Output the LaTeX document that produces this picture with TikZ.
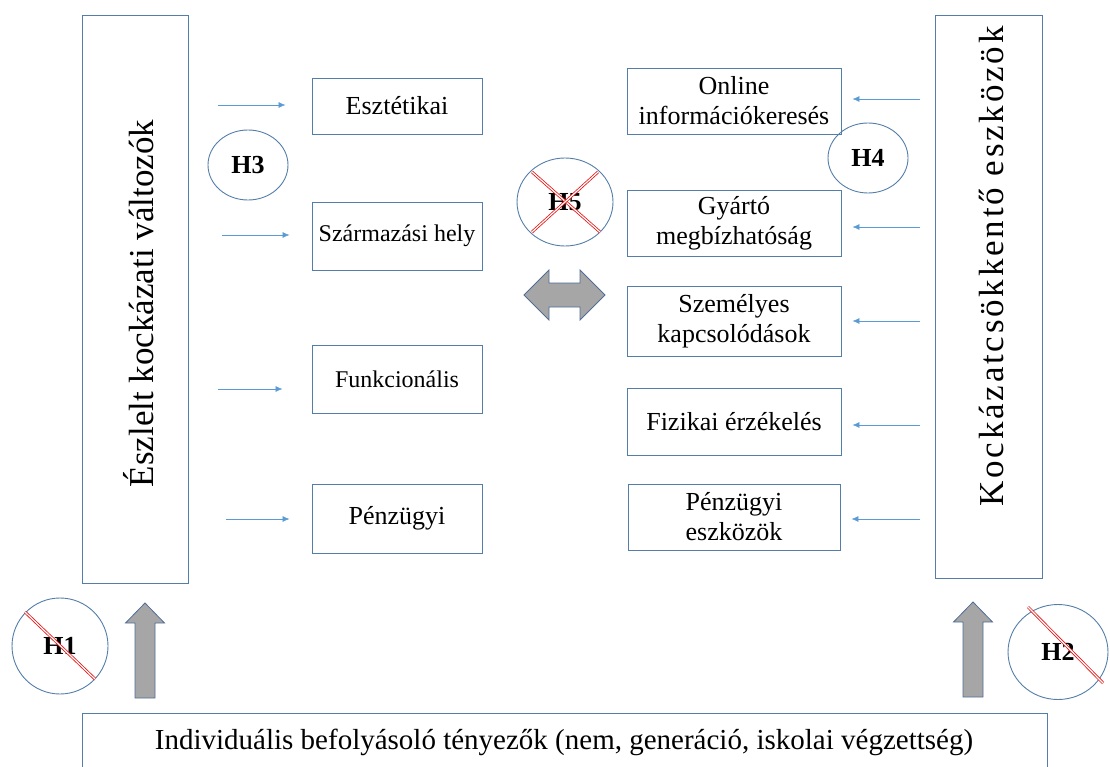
\documentclass[tikz,border=0pt]{standalone}
\usepackage{fontspec}
\setmainfont{Liberation Serif}
\usetikzlibrary{arrows.meta,shapes.geometric,calc}
\begin{document}
\definecolor{boxline}{RGB}{84,126,170}
\definecolor{arrline}{RGB}{91,155,213}
\definecolor{fatfill}{RGB}{166,166,166}
\definecolor{fatline}{RGB}{80,110,150}
\definecolor{strike}{RGB}{230,20,20}
\begin{tikzpicture}[x=1pt,y=-1pt,
  frame/.style={draw=boxline,line width=0.9pt,inner sep=0pt},
  itembox/.style={frame,fill=white,align=center,font=\fontsize{26}{30}\selectfont},
  smallbox/.style={itembox,font=\fontsize{24}{28}\selectfont},
  hyp/.style={draw=boxline,line width=0.9pt,ellipse,inner sep=0pt,font=\bfseries\fontsize{26}{28}\selectfont},
  smallarr/.style={-{Latex[length=7pt,width=6pt]},draw=arrline,line width=0.7pt},
  fat/.style={fill=fatfill,draw=fatline,line width=0.8pt},
  cross/.style={draw=strike,double=white,double distance=1.2pt,line width=0.8pt}]
\useasboundingbox (0,0) rectangle (1110,767);

% tall side boxes
\node[frame,minimum width=106pt,minimum height=568pt] (lbox) at (135,299) {};
\node[rotate=90,font=\fontsize{35}{38}\selectfont] (ltext) at (139,303.5) {Észlelt kockázati változók};
\node[frame,minimum width=107pt,minimum height=563pt] (rbox) at (988.5,296.5) {};
\node[rotate=90,font=\fontsize{35}{38}\selectfont\addfontfeature{LetterSpace=8}] (rtext) at (991,266.5) {Kockázatcsökkentő eszközök};

% bottom box, open at the page edge
\draw[boxline,line width=0.9pt] (82,780) |- (1047,713) -- (1047,780);
\node[font=\fontsize{29}{32}\selectfont] (indiv) at (564,742) {Individuális befolyásoló tényezők (nem, generáció, iskolai végzettség)};

% perceived risk items
\node[itembox,minimum width=170pt,minimum height=56pt] (esz) at (397,106) {Esztétikai};
\node[smallbox,minimum width=170pt,minimum height=68pt] (szh) at (397,236) {Származási hely};
\node[smallbox,minimum width=170pt,minimum height=68pt] (fun) at (397,379) {Funkcionális};
\node[itembox,minimum width=170pt,minimum height=69pt] (pen) at (397,518.5) {Pénzügyi};

% risk reduction items
\node[itembox,minimum width=214pt,minimum height=66pt] (onl) at (734,101) {Online\\információkeresés};
\node[itembox,minimum width=214pt,minimum height=66pt] (gyr) at (734,223) {Gyártó\\megbízhatóság};
\node[itembox,minimum width=214pt,minimum height=70pt] (sze) at (734,321) {Személyes\\kapcsolódások};
\node[itembox,minimum width=214pt,minimum height=67pt] (fiz) at (734,421.5) {Fizikai érzékelés};
\node[itembox,minimum width=212pt,minimum height=66pt] (pez) at (734,517) {Pénzügyi\\eszközök};

% short arrows
\coordinate (a1) at (218,105); \coordinate (a2) at (222,235);
\coordinate (a3) at (218,389); \coordinate (a4) at (226,519);
\draw[smallarr] (a1) -- ([xshift=-26pt]a1 -| esz.west);
\draw[smallarr] (a2) -- ([xshift=-22pt]a2 -| szh.west);
\draw[smallarr] (a3) -- ([xshift=-29pt]a3 -| fun.west);
\draw[smallarr] (a4) -- ([xshift=-22pt]a4 -| pen.west);

\coordinate (b1) at (920,99); \coordinate (b2) at (920,227);
\coordinate (b3) at (920,321); \coordinate (b4) at (920,425);
\coordinate (b5) at (920,519);
\draw[smallarr] (b1) -- ([xshift=11pt]b1 -| onl.east);
\draw[smallarr] (b2) -- ([xshift=11pt]b2 -| gyr.east);
\draw[smallarr] (b3) -- ([xshift=11pt]b3 -| sze.east);
\draw[smallarr] (b4) -- ([xshift=11pt]b4 -| fiz.east);
\draw[smallarr] (b5) -- ([xshift=11pt]b5 -| pez.east);

% hypotheses
\node[hyp,minimum width=80pt,minimum height=70pt] (h3) at (248,165) {H3};
\node[hyp,minimum width=80pt,minimum height=70pt] (h4) at (868,158) {H4};
\node[hyp,minimum width=96pt,minimum height=88pt] (h5) at (565,202) {H5};
\draw[cross] ($(h5.center)+(-33,-30)$) -- ($(h5.center)+(35,30)$);
\draw[cross] ($(h5.center)+(33,-30)$) -- ($(h5.center)+(-33,30)$);
\node[hyp,minimum width=96pt,minimum height=96pt] (h1) at (60,646) {H1};
\draw[cross] ($(h1.center)+(-35,-34)$) -- ($(h1.center)+(35,33)$);
\node[hyp,minimum width=100pt,minimum height=95pt] (h2) at (1058,652) {H2};
\draw[cross] ($(h2.center)+(-30,-45)$) -- ($(h2.center)+(45,31)$);

% block arrows
\coordinate (u1) at (145,603);
\draw[fat] (u1) -- ++(19.5,20) -- ++(-9.5,0) -- ++(0,75) -- ++(-20,0) -- ++(0,-75) -- ++(-9.5,0) -- cycle;
\coordinate (u2) at (973,602);
\draw[fat] (u2) -- ++(19.5,20) -- ++(-9.5,0) -- ++(0,75) -- ++(-20,0) -- ++(0,-75) -- ++(-9.5,0) -- cycle;
\coordinate (dl) at (524,295);
\draw[fat] (dl) -- ++(25,-25) -- ++(0,13) -- ++(31,0) -- ++(0,-13) -- ++(25,25)
  -- ++(-25,25) -- ++(0,-13) -- ++(-31,0) -- ++(0,13) -- cycle;
\end{tikzpicture}
\end{document}
